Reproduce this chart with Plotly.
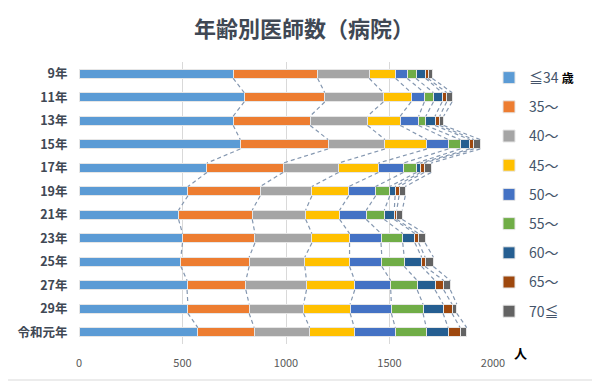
import plotly.graph_objects as go

years = ["9年", "11年", "13年", "15年", "17年", "19年", "21年", "23年", "25年", "27年", "29年", "令和元年"]
age_groups = ["≦34", "35〜", "40〜", "45〜", "50〜", "55〜", "60〜", "65〜", "70≦"]

v_34 = [745, 798, 745, 779, 618, 526, 481, 500, 492, 522, 526, 574]
v_35 = [408, 389, 372, 424, 368, 349, 356, 350, 330, 284, 296, 272]
v_40 = [249, 283, 277, 275, 268, 250, 258, 275, 269, 293, 263, 268]
v_45 = [128, 134, 158, 203, 192, 178, 164, 182, 216, 233, 225, 216]
v_50 = [56, 64, 89, 103, 121, 130, 129, 152, 156, 174, 199, 198]
v_55 = [42, 44, 35, 58, 63, 68, 87, 105, 108, 128, 153, 150]
v_60 = [47, 42, 44, 46, 19, 26, 48, 59, 84, 86, 97, 105]
v_65 = [11, 22, 23, 19, 18, 19, 12, 18, 17, 42, 43, 58]
v_70 = [21, 26, 19, 31, 34, 30, 27, 31, 40, 32, 23, 32]

series = [v_34, v_35, v_40, v_45, v_50, v_55, v_60, v_65, v_70]
colors = ["#5B9BD5", "#ED7D31", "#A5A5A5", "#FFC000", "#4472C4",
          "#70AD47", "#255E91", "#9E480E", "#636363"]

bar_w = 0.4
ypos = list(range(len(years)))

# figure is sized to fit inside the page's default 8px body margin
W, H = 592, 373
L, R, T, B = 71, 107, 54, 37
PW, PH = W - L - R, H - T - B

fig = go.Figure()

# dashed series lines connecting segment ends between consecutive bars
cum = [0] * len(years)
for vals in series:
    cum = [c + v for c, v in zip(cum, vals)]
    xs, ys = [], []
    for i in range(len(years) - 1):
        xs += [cum[i], cum[i + 1], None]
        ys += [i + bar_w / 2, i + 1 - bar_w / 2, None]
    fig.add_trace(go.Scatter(x=xs, y=ys, mode="lines", showlegend=False,
                             hoverinfo="skip",
                             line=dict(color="#8497B0", width=1.2, dash="4px,3px")))

for k, (name, vals, col) in enumerate(zip(age_groups, series, colors)):
    label = name
    if k == 0:
        label = name + " <b><span style='color:#000000;font-size:12px'>歳</span></b>"
    fig.add_trace(go.Bar(
        x=vals, y=ypos, orientation="h", name=label, width=bar_w,
        legendgroup=name,
        marker=dict(color=col, line=dict(color="#E6E6E6", width=1)),
    ))

fig.update_layout(
    width=W, height=H,
    barmode="stack",
    paper_bgcolor="white", plot_bgcolor="white",
    font=dict(family="Noto Sans CJK JP", color="#595959"),
    title=dict(text="<b>年齢別医師数（病院）</b>", x=0.5, xanchor="center",
               y=0.944, yanchor="middle",
               font=dict(size=22, color="#404854", family="Noto Sans CJK JP")),
    margin=dict(l=L, r=R, t=T, b=B, autoexpand=False),
    xaxis=dict(range=[0, 2000], tickvals=[0, 500, 1000, 1500, 2000],
               showgrid=True, gridcolor="#D9D9D9", gridwidth=1,
               zeroline=False, showline=False, automargin=False,
               tickfont=dict(size=11, color="#595959"),
               ticks="outside", ticklen=9, tickcolor="rgba(0,0,0,0)"),
    yaxis=dict(range=[11.5, -0.5], tickvals=ypos,
               ticktext=["<b>" + y + "</b>" for y in years],
               showgrid=False, zeroline=False, showline=False, automargin=False,
               tickfont=dict(size=12.5, color="#404854"),
               ticks="outside", ticklen=8, tickcolor="rgba(0,0,0,0)"),
    legend=dict(x=(481 - L) / PW, xanchor="left", y=1.0, yanchor="top",
                traceorder="grouped", tracegroupgap=8,
                font=dict(size=14, color="#44546A"),
                itemwidth=30, bgcolor="rgba(0,0,0,0)"),
    showlegend=True,
)

fig.add_annotation(text="<b>人</b>", xref="paper", yref="paper",
                   x=(512 - L) / PW, y=-8 / PH, xanchor="center", yanchor="middle",
                   showarrow=False, font=dict(size=13, color="#000000"))

# right/bottom chart border (left/top fall in the page margin)
fig.add_shape(type="line", xref="paper", yref="paper",
              x0=(W - 1 - L) / PW, x1=(W - 1 - L) / PW,
              y0=-(B - 1) / PH, y1=(H - B - 0) / PH,
              line=dict(color="#D9D9D9", width=1), layer="below")
fig.add_shape(type="line", xref="paper", yref="paper",
              x0=-L / PW, x1=(W - 1 - L) / PW,
              y0=-(B - 1) / PH, y1=-(B - 1) / PH,
              line=dict(color="#D9D9D9", width=1), layer="below")

fig.write_html("out.html")
